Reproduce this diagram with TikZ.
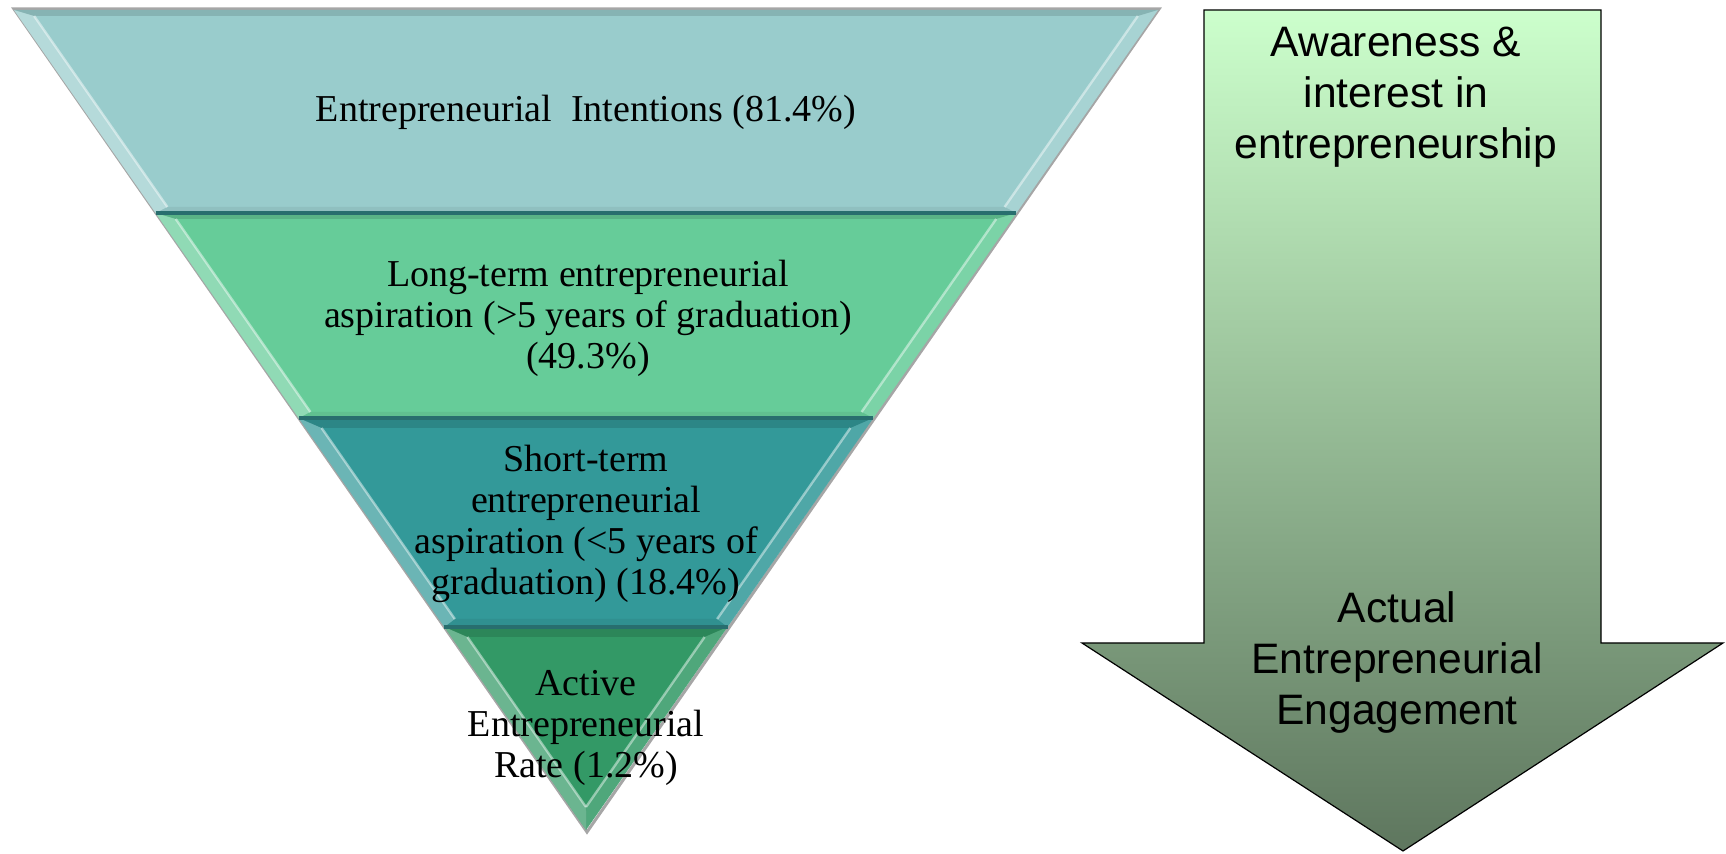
\documentclass[tikz,border=0pt]{standalone}
\usepackage{fontspec}
\setmainfont{Liberation Serif}
\newfontfamily\arialf{Liberation Sans}
\usetikzlibrary{calc}
\definecolor{bandA}{RGB}{153,204,204}
\definecolor{bandB}{RGB}{102,204,153}
\definecolor{bandC}{RGB}{51,153,153}
\definecolor{bandD}{RGB}{51,153,102}
\definecolor{sepcol}{RGB}{40,110,110}
\definecolor{arrowtop}{RGB}{204,255,204}
\definecolor{arrowmid}{RGB}{160,200,158}
\definecolor{arrowbot}{RGB}{94,118,94}
\newcommand\fbevel[5]{%
  \pgfmathsetmacro\fya{#1}\pgfmathsetmacro\fyb{#2}%
  \pgfmathsetmacro\fyc{#1+#4}\pgfmathsetmacro\fyd{#2-#5}%
  \coordinate (o1) at ({xl(\fya)},\fya);
  \coordinate (o2) at ({xr(\fya)},\fya);
  \coordinate (o3) at ({xr(\fyb)},\fyb);
  \coordinate (o4) at ({xl(\fyb)},\fyb);
  \coordinate (i1) at ({xl(\fyc)+#3},\fyc);
  \coordinate (i2) at ({xr(\fyc)-#3},\fyc);
  \coordinate (i3) at ({xr(\fyd)-#3},\fyd);
  \coordinate (i4) at ({xl(\fyd)+#3},\fyd);
  \fill[bevL] (o1) -- (i1) -- (i4) -- (o4) -- cycle;
  \fill[bevT] (o1) -- (o2) -- (i2) -- (i1) -- cycle;
  \fill[bevR] (o2) -- (o3) -- (i3) -- (i2) -- cycle;
  \fill[bevB] (o4) -- (i4) -- (i3) -- (o3) -- cycle;
  \draw[hilite] (i1) -- (i4);
  \draw[hilite] (i2) -- (i3);
}
\begin{document}
\begin{tikzpicture}[x=0.5pt,y=-0.5pt,
  declare function={xl(\q)=14+0.6976*(\q-10); xr(\q)=1158-0.6976*(\q-10);},
  ftext/.style={font=\fontsize{19}{20.5}\selectfont, align=center, inner sep=0pt, text=black},
  atext/.style={font=\arialf\fontsize{21.3}{25.5}\selectfont, align=center, inner sep=0pt, text=black},
  bevL/.style={fill=white, fill opacity=0.28},
  bevR/.style={fill=white, fill opacity=0.14},
  bevT/.style={fill=black, fill opacity=0.12},
  bevB/.style={fill=black, fill opacity=0.06},
  hilite/.style={draw=white, line width=1.2pt, draw opacity=0.45},
  sep/.style={draw=sepcol, line width=1.6pt},
  band/.style={draw=none}]
\useasboundingbox (0,0) rectangle (1726,854);
% shadow outline of funnel
\draw[draw=black!35, line width=1.5pt] (14,9) -- (1159,9) -- (587,832) -- cycle;
% bands
\fill[bandA] ({xl(10)},10) -- ({xr(10)},10) -- ({xr(213)},213) -- ({xl(213)},213) -- cycle;
\fill[bandB] ({xl(213)},213) -- ({xr(213)},213) -- ({xr(418)},418) -- ({xl(418)},418) -- cycle;
\fill[bandC] ({xl(418)},418) -- ({xr(418)},418) -- ({xr(627)},627) -- ({xl(627)},627) -- cycle;
\fill[bandD] ({xl(627)},627) -- ({xr(627)},627) -- (586,830) -- cycle;
% bevels
\fbevel{10}{213}{16}{6}{6}
\fbevel{213}{418}{16}{6}{6}
\fbevel{418}{627}{16}{10}{8}
\fbevel{627}{830}{16}{10}{23}
% separators
\draw[sep] ({xl(213)},213) -- ({xr(213)},213);
\draw[sep] ({xl(418)},418) -- ({xr(418)},418);
\draw[sep] ({xl(627)},627) -- ({xr(627)},627);
% funnel texts
\node[ftext] (t1) at (586,112) {Entrepreneurial\ \ Intentions (81.4\%)};
\node[ftext] (t2) at (588,318) {Long-term entrepreneurial\\aspiration (>5 years of graduation)\\(49.3\%)};
\node[ftext] (t3) at (586,524) {Short-term\\entrepreneurial\\aspiration (<5 years of\\graduation) (18.4\%)};
\node[ftext] (t4) at (586,728) {Active\\Entrepreneurial\\Rate (1.2\%)};
% arrow
\coordinate (a1) at (1204,10);
\coordinate (a2) at (1601,10);
\coordinate (a3) at (1601,643);
\coordinate (a4) at (1723,643);
\coordinate (a5) at (1403,851);
\coordinate (a6) at (1082,643);
\coordinate (a7) at (1204,643);
\shade[top color=arrowtop, middle color=arrowmid, bottom color=arrowbot, draw=black, line width=0.6pt]
  (a1) -- (a2) -- (a3) -- (a4) -- (a5) -- (a6) -- (a7) -- cycle;
\node[atext] (aw) at (1396,97) {Awareness \&\\interest in\\entrepreneurship};
\node[atext] (ac) at (1397,662) {Actual\\Entrepreneurial\\Engagement};
\end{tikzpicture}
\end{document}
